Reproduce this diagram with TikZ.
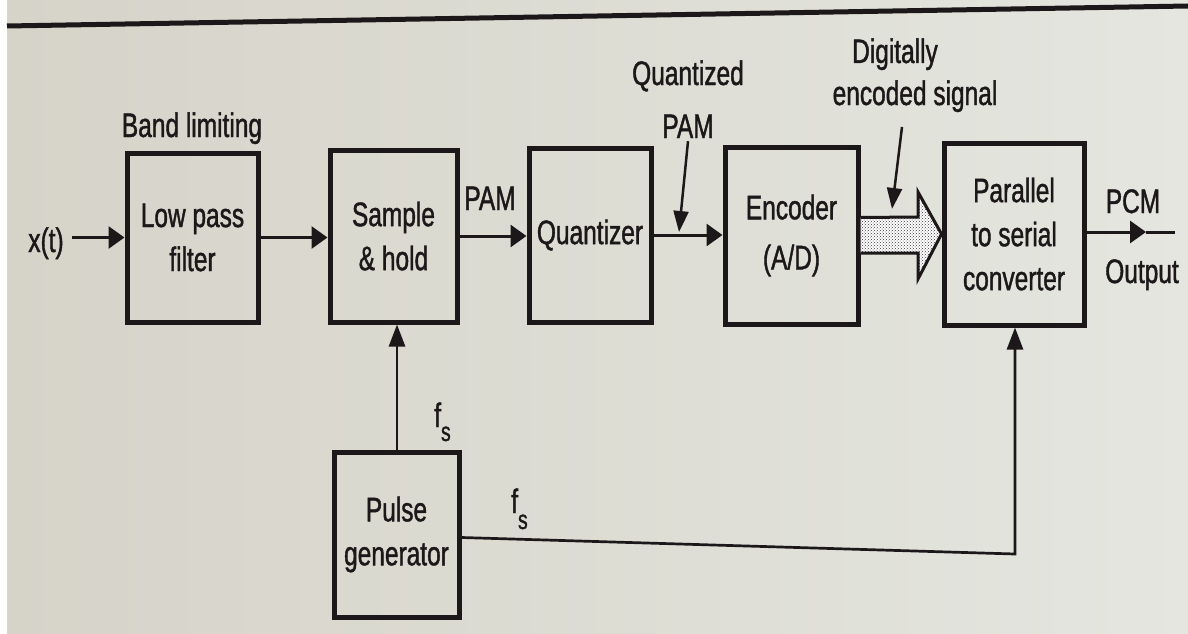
\documentclass[tikz,border=0pt]{standalone}
\usepackage{fontspec}
\setmainfont{Liberation Sans}[FakeStretch=0.72,FakeBold=1.2]
\usetikzlibrary{arrows.meta,patterns,calc}
\definecolor{paperL}{RGB}{214,211,201}
\definecolor{paperR}{RGB}{228,230,223}
\definecolor{ink}{RGB}{28,24,26}
\begin{document}
\begin{tikzpicture}[x=1pt,y=-1pt,
  every node/.style={text=ink, font=\fontsize{34}{44}\selectfont},
  blk/.style={draw=ink, line width=5pt, align=center, inner sep=0pt},
  conn/.style={draw=ink, line width=3pt, -{Triangle[length=16pt,width=22pt]}},
  ptr/.style={draw=ink, line width=2.5pt, -{Triangle[length=21pt,width=15pt]}},
  clk/.style={draw=ink, line width=2.7pt, line join=miter, -{Triangle[length=22pt,width=16pt]}},
  plainln/.style={draw=ink, line width=3pt},
  lbl/.style={anchor=base, inner sep=3pt}]
% paper
\shade[left color=paperL, right color=paperR] (0,0) rectangle (1188,634);
\fill[white] (0,0) rectangle (7,634);
\useasboundingbox (0,0) rectangle (1188,634);
\draw[ink, line width=5pt] (7,26) -- (1188,6);

% blocks
\node[blk, minimum width=131pt, minimum height=169pt] (lpf) at (192.5,237.5) {Low pass\\filter};
\node[blk, minimum width=127pt, minimum height=172pt] (sh) at (393.5,236) {Sample\\\& hold};
\node[blk, minimum width=122pt, minimum height=174pt] (qz) at (590,235) {Quantizer};
\node[blk, minimum width=133pt, minimum height=177pt] (enc) at (791.5,235.5) {Encoder\\[6pt](A/D)};
\node[blk, minimum width=140pt, minimum height=182pt] (ps) at (1014,234) {Parallel\\to serial\\converter};
\node[blk, minimum width=125pt, minimum height=165pt] (pg) at (396.5,534.5) {Pulse\\generator};

% labels
\node[lbl] (band) at (192,137) {Band limiting};
\node[lbl] (xt) at (46,252) {x(t)};
\node[lbl] (pam) at (490,210) {PAM};
\node[lbl] (qz1) at (688,85) {Quantized};
\node[lbl] (qz2) at (688,138) {PAM};
\node[lbl] (dg1) at (895,63) {Digitally};
\node[lbl] (dg2) at (915,105) {encoded signal};
\node[lbl] (pcm) at (1133,213) {PCM};
\node[lbl] (outp) at (1142,283) {Output};
\node[anchor=base west, inner sep=0pt] (fs1) at (434,427) {f\raisebox{-14pt}{\fontsize{27}{27}\selectfont s}};
\node[anchor=base west, inner sep=0pt] (fs2) at (511,513) {f\raisebox{-16pt}{\fontsize{27}{27}\selectfont s}};

% connectors
\coordinate (xin) at (72,237.5);
\draw[conn] (xin) -- (lpf.west);
\draw[conn] (lpf.east) -- (lpf.east -| sh.west);
\draw[conn] (sh.east) -- (sh.east -| qz.west);
\draw[conn] (qz.east) -- (qz.east -| enc.west);
\coordinate (pcmmid) at (1146,232);
\coordinate (pcmend) at (1175,232);
\draw[conn] (ps.east |- pcmmid) -- (pcmmid);
\draw[plainln] (pcmmid) -- (pcmend);

% pointers
\coordinate (qb) at (679,232);
\draw[ptr] (qz2.south) -- (qb);
\coordinate (da) at (902,127);
\coordinate (db) at (892,209);
\draw[ptr] (da) -- (db);

% hatched parallel arrow
\path[draw=ink, line width=3pt, line join=miter, preaction={fill=white}, pattern=crosshatch dots, pattern color=ink!85]
  ($(enc.east)+(0,-18)$) -- (918,217) -- (918,192) -- (ps.west) -- (918,279) -- (918,253) -- ($(enc.east)+(0,17.5)$);

% clock lines
\draw[clk] (pg.north -| 397,0) -- (sh.south -| 397,0);
\coordinate (corner) at (1015,554);
\draw[clk] ($(pg.east)+(0,3)$) -- (corner) -- (corner |- ps.south);
\end{tikzpicture}
\end{document}
